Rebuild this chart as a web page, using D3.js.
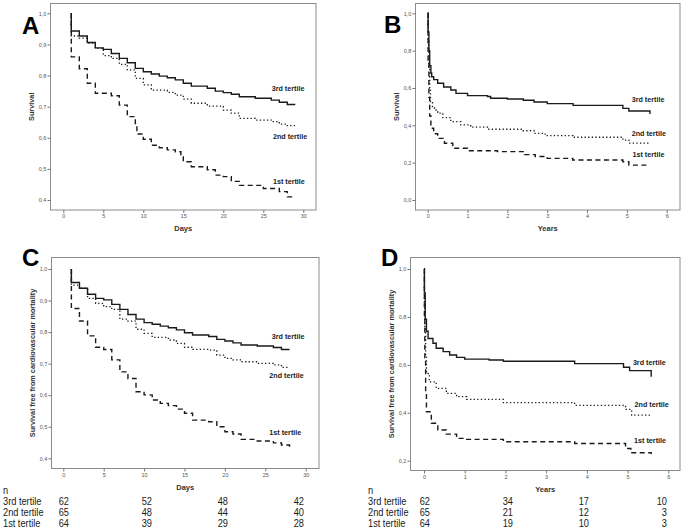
<!DOCTYPE html>
<html><head><meta charset="utf-8">
<script src="https://cdn.jsdelivr.net/npm/d3@7"></script>
<style>
html,body{margin:0;padding:0;background:#fff;}
svg{display:block;font-family:"Liberation Sans",Arial,sans-serif;}
</style></head>
<body>
<svg id="chart" width="685" height="530"></svg>
<script>
// ---------- DATA ----------
const seriesNames = ["3rd tertile", "2nd tertile", "1st tertile"];

// Panel A: all-cause survival, days
const A3 = [[1,1],[1,0.943],[2,0.927],[3,0.906],[4,0.889],[5,0.884],[6,0.871],[7,0.855],[8,0.841],[9,0.823],[10,0.812],[11,0.805],[12,0.798],[13,0.793],[14,0.786],[15,0.775],[16,0.766],[18,0.759],[19,0.750],[20,0.745],[21,0.740],[22,0.732],[24,0.727],[26,0.721],[27,0.714],[28,0.707],[29,0.707]];
const A2 = [[1,1],[1,0.927],[2,0.920],[3,0.904],[4,0.887],[5,0.864],[6,0.855],[7,0.836],[8,0.818],[9,0.791],[10,0.770],[11,0.753],[13,0.746],[14,0.737],[15,0.724],[16,0.711],[18,0.702],[20,0.689],[21,0.679],[22,0.662],[24,0.657],[26,0.652],[27,0.644],[28,0.639],[29,0.639]];
const A1 = [[1,1],[1,0.860],[2,0.822],[3,0.775],[4,0.743],[6,0.735],[7,0.705],[8,0.668],[9,0.646],[9.2,0.612],[10,0.595],[11,0.576],[12,0.568],[13,0.561],[14,0.555],[14.7,0.545],[15,0.523],[16,0.507],[18,0.497],[19,0.480],[20,0.475],[21,0.460],[22,0.447],[25,0.437],[27,0.427],[28,0.410],[29,0.410]];

// Panel B: all-cause survival, years
const B3 = [[0,1],[0.01,0.90],[0.03,0.80],[0.05,0.72],[0.08,0.68],[0.10,0.66],[0.15,0.645],[0.25,0.625],[0.40,0.605],[0.58,0.589],[0.71,0.571],[1.0,0.559],[1.5,0.554],[1.58,0.545],[2.0,0.541],[2.4,0.534],[2.67,0.525],[3.0,0.516],[3.65,0.507],[4.9,0.491],[5.05,0.477],[5.58,0.460]];
const B2 = [[0,1],[0.01,0.85],[0.03,0.70],[0.05,0.60],[0.07,0.527],[0.12,0.50],[0.17,0.482],[0.25,0.465],[0.38,0.441],[0.58,0.420],[0.83,0.402],[1.08,0.390],[1.5,0.379],[2.4,0.371],[2.67,0.357],[2.95,0.345],[3.65,0.336],[4.9,0.321],[5.05,0.305],[5.58,0.305]];
const B1 = [[0,1],[0.01,0.75],[0.03,0.55],[0.05,0.45],[0.08,0.384],[0.15,0.355],[0.25,0.330],[0.42,0.304],[0.63,0.277],[1.0,0.264],[1.75,0.259],[2.43,0.243],[2.7,0.233],[3.0,0.223],[3.64,0.214],[4.9,0.205],[5.05,0.187],[5.58,0.187]];

// Panel C: survival free from CV mortality, days
const C3 = [[1,1],[1,0.957],[2,0.939],[3,0.920],[4,0.907],[5,0.902],[6,0.888],[7,0.872],[8,0.856],[9,0.841],[10,0.830],[11,0.825],[12,0.819],[13,0.814],[14,0.807],[15,0.798],[16,0.791],[18,0.786],[19,0.777],[20,0.772],[21,0.766],[22,0.759],[24,0.756],[26,0.751],[27,0.745],[28,0.745]];
const C2 = [[1,1],[1,0.949],[2,0.939],[3,0.907],[4,0.891],[5,0.881],[6,0.872],[7,0.841],[8,0.835],[9,0.809],[10,0.796],[11,0.783],[13,0.775],[14,0.764],[15,0.752],[16,0.745],[18,0.743],[19,0.727],[20,0.717],[21,0.712],[22,0.706],[24,0.701],[26,0.696],[27,0.688],[28,0.688]];
const C1 = [[1,1],[1,0.875],[2,0.835],[3,0.788],[4,0.752],[5,0.745],[6,0.712],[7,0.674],[8,0.653],[9,0.611],[10,0.601],[11,0.585],[12,0.574],[13,0.567],[14,0.556],[15,0.543],[16,0.521],[18,0.516],[19,0.500],[20,0.484],[21,0.477],[22,0.460],[24,0.455],[26,0.449],[27,0.442],[28,0.435]];

// Panel D: survival free from CV mortality, years
const D3 = [[0,1],[0.01,0.90],[0.03,0.79],[0.06,0.74],[0.10,0.71],[0.22,0.69],[0.30,0.669],[0.47,0.655],[0.63,0.641],[0.80,0.631],[1.0,0.624],[1.6,0.620],[1.95,0.615],[3.7,0.605],[4.9,0.590],[5.05,0.576],[5.58,0.550]];
const D2 = [[0,1],[0.01,0.85],[0.02,0.76],[0.04,0.64],[0.06,0.564],[0.13,0.529],[0.30,0.502],[0.55,0.481],[0.80,0.467],[1.05,0.456],[1.95,0.442],[3.7,0.431],[4.95,0.414],[5.1,0.390],[5.58,0.390]];
const D1 = [[0,1],[0.01,0.80],[0.02,0.62],[0.04,0.48],[0.06,0.404],[0.18,0.356],[0.34,0.328],[0.55,0.311],[0.80,0.293],[1.05,0.289],[1.95,0.279],[3.7,0.272],[4.95,0.251],[5.08,0.233],[5.58,0.228]];

// tick values
const xTicksDays = [0, 5, 10, 15, 20, 25, 30];
const xTicksYears = [0, 1, 2, 3, 4, 5, 6];
const yTicksA = [0.4, 0.5, 0.6, 0.7, 0.8, 0.9, 1.0];
const yTicksB = [0.0, 0.2, 0.4, 0.6, 0.8, 1.0];
const yTicksC = [0.4, 0.5, 0.6, 0.7, 0.8, 0.9, 1.0];
const yTicksD = [0.2, 0.4, 0.6, 0.8, 1.0];

// numbers at risk
const riskC3 = [62, 52, 48, 42];
const riskC2 = [65, 48, 44, 40];
const riskC1 = [64, 39, 29, 28];
const riskD3 = [62, 34, 17, 10];
const riskD2 = [65, 21, 12, 3];
const riskD1 = [64, 19, 10, 3];

// ---------- LAYOUT ----------
const panels = [
  {letter:"A", letterPos:[22,33.5], frame:{l:50.5,r:316,t:3.5,b:210},
   xDom:[0,30], xRng:[63.3,303.3], yDom:[0.4,1.0], yRng:[200,13.3],
   xTicks:xTicksDays, yTicks:yTicksA, xLabel:"Days", yLabel:"Survival",
   series:[A3,A2,A1], labelPos:[[26.05,0.756],[26.2,0.603],[26.2,0.456]]},
  {letter:"B", letterPos:[384,33], frame:{l:415.5,r:680,t:3.5,b:210},
   xDom:[0,6], xRng:[427.7,666.7], yDom:[0,1.0], yRng:[200,13.3],
   xTicks:xTicksYears, yTicks:yTicksB, xLabel:"Years", yLabel:"Survival",
   series:[B3,B2,B1], labelPos:[[5.12,0.536],[5.12,0.353],[5.14,0.241]]},
  {letter:"C", letterPos:[22,265.5], frame:{l:51.5,r:319,t:257.5,b:468.5},
   xDom:[0,30], xRng:[63.3,305.7], yDom:[0.4,1.0], yRng:[458.3,269],
   xTicks:xTicksDays, yTicks:yTicksC, xLabel:"Days", yLabel:"Survival free from cardiovascular mortality",
   series:[C3,C2,C1], labelPos:[[25.8,0.785],[25.5,0.661],[25.5,0.481]],
   risk:[riskC3,riskC2,riskC1], riskX:3, riskCols:[69,152,228,304]},
  {letter:"D", letterPos:[381,265.5], frame:{l:410.5,r:680,t:257.5,b:470.5},
   xDom:[0,6], xRng:[424,668.3], yDom:[0.2,1.0], yRng:[460.7,269],
   xTicks:xTicksYears, yTicks:yTicksD, xLabel:"Years", yLabel:"Survival free from cardiovascular mortality",
   series:[D3,D2,D1], labelPos:[[5.13,0.609],[5.17,0.432],[5.16,0.283]],
   risk:[riskD3,riskD2,riskD1], riskX:368, riskCols:[430,513,589,667]}
];

const lineStyles = [
  {dash:null, width:1.4},
  {dash:"1.3,2.3", width:1.3},
  {dash:"5,3.5", width:1.4}
];

const svg = d3.select("#chart");
const fmt = v => d3.format(".1f")(v).replace(".", ",");

panels.forEach(p => {
  const x = d3.scaleLinear().domain(p.xDom).range(p.xRng);
  const y = d3.scaleLinear().domain(p.yDom).range(p.yRng);
  const g = svg.append("g");
  const f = p.frame;

  // frame
  g.append("rect").attr("x", f.l).attr("y", f.t)
    .attr("width", f.r - f.l).attr("height", f.b - f.t)
    .attr("fill", "#fff").attr("stroke", "#8c8c8c").attr("stroke-width", 1);

  // y axis on frame left
  const yAx = d3.axisLeft(y).tickValues(p.yTicks).tickFormat(fmt).tickSize(3).tickPadding(1.2);
  const ya = g.append("g").attr("transform", `translate(${f.l},0)`).call(yAx);
  ya.select(".domain").remove();
  ya.selectAll("line").attr("stroke", "#777");
  ya.selectAll("text").attr("font-size", 5.5).attr("fill", "#555")
    .attr("font-family", '"Liberation Sans",Arial,sans-serif');

  // x axis on frame bottom
  const xAx = d3.axisBottom(x).tickValues(p.xTicks).tickFormat(d3.format("d")).tickSize(3).tickPadding(1.5);
  const xa = g.append("g").attr("transform", `translate(0,${f.b})`).call(xAx);
  xa.select(".domain").remove();
  xa.selectAll("line").attr("stroke", "#777");
  xa.selectAll("text").attr("font-size", 5.5).attr("fill", "#555")
    .attr("font-family", '"Liberation Sans",Arial,sans-serif');

  // axis titles
  g.append("text").attr("x", (f.l + f.r) / 2).attr("y", f.b + 21)
    .attr("text-anchor", "middle").attr("font-size", 7.5).attr("font-weight", "bold")
    .attr("fill", "#333").text(p.xLabel);
  g.append("text")
    .attr("transform", `translate(${f.l - 17},${(f.t + f.b) / 2}) rotate(-90)`)
    .attr("text-anchor", "middle").attr("font-size", 7.3).attr("font-weight", "bold")
    .attr("fill", "#333").text(p.yLabel);

  // curves
  const line = d3.line().x(d => x(d[0])).y(d => y(d[1])).curve(d3.curveStepAfter);
  p.series.forEach((s, i) => {
    const st = lineStyles[i];
    const path = g.append("path").datum(s).attr("d", line)
      .attr("fill", "none").attr("stroke", "#1a1a1a").attr("stroke-width", st.width);
    if (st.dash) path.attr("stroke-dasharray", st.dash);
  });

  // series labels
  p.labelPos.forEach((lp, i) => {
    g.append("text").attr("x", x(lp[0])).attr("y", y(lp[1]))
      .attr("dominant-baseline", "middle")
      .attr("font-size", 7.2).attr("font-weight", "bold").attr("fill", "#222")
      .text(seriesNames[i]);
  });

  // panel letter
  svg.append("text").attr("x", p.letterPos[0]).attr("y", p.letterPos[1])
    .attr("font-size", 24).attr("font-weight", "bold").attr("fill", "#000")
    .attr("font-family", "Arial,'Liberation Sans',sans-serif")
    .text(p.letter);

  // risk table
  if (p.risk) {
    const rowY = [493.5, 504.5, 515.5, 526.5];
    const tt = (xx, yy, txt, anchor) => svg.append("text")
      .attr("transform", `translate(${xx},${yy}) scale(0.84,1)`)
      .attr("text-anchor", anchor).attr("font-size", 11).attr("fill", "#1a1a1a")
      .text(txt);
    tt(p.riskX, rowY[0], "n", "start");
    p.risk.forEach((row, ri) => {
      tt(p.riskX, rowY[ri + 1], seriesNames[ri], "start");
      row.forEach((v, ci) => tt(p.riskCols[ci], rowY[ri + 1], v, "end"));
    });
  }
});
</script>
</body></html>
